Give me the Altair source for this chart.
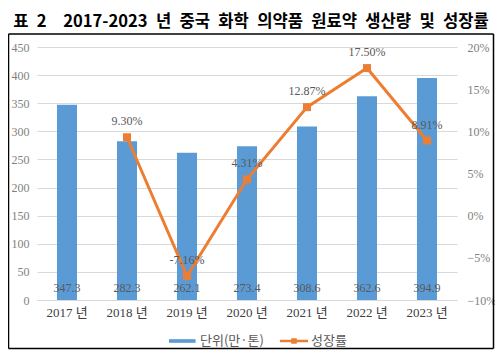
import altair as alt
import pandas as pd

years = ["2017 년", "2018 년", "2019 년", "2020 년", "2021 년", "2022 년", "2023 년"]
production = [347.3, 282.3, 262.1, 273.4, 308.6, 362.6, 394.9]
growth_pct = [None, 9.30, -7.16, 4.31, 12.87, 17.50, 8.91]
series = ["단위(만·톤)", "성장률"]
title_words = ["2017-2023", "년", "중국", "화학", "의약품", "원료약", "생산량", "및", "성장률"]
title_text = "표\u20022\u2002\u2002" + "\u2002".join(title_words)

BLUE = "#5b9bd5"
ORANGE = "#ed7d31"
GREY = "#595959"
SERIF = "Liberation Serif, Noto Sans CJK KR"
CJK = "Noto Sans CJK KR"

df = pd.DataFrame({
    "year": years,
    "production": production,
    "growth": [None if g is None else g / 100 for g in growth_pct],
    "plabel": [f"{v:.1f}" for v in production],
    "glabel": ["" if g is None else f"{g:.2f}%" for g in growth_pct],
})
leg_df = pd.DataFrame({"series": series})

x_axis = alt.Axis(labelAngle=0, ticks=False, domainColor="#d9d9d9",
                  labelFont=SERIF, labelFontSize=13, labelColor="#404040",
                  labelPadding=6)
left_axis = alt.Axis(values=list(range(0, 451, 50)), grid=True, gridColor="#d9d9d9",
                     domain=False, ticks=False, labelFont=SERIF, labelFontSize=12,
                     labelColor="#7f7f7f", labelPadding=8, labelOverlap=False)
left_scale = alt.Scale(domain=[0, 450], nice=False, zero=True)

base = alt.Chart(df)

bars = base.mark_bar(size=20, color=BLUE).encode(
    x=alt.X("year:N", sort=years, title=None, axis=x_axis),
    y=alt.Y("production:Q", title=None, scale=left_scale, axis=left_axis),
)
bar_text = base.mark_text(dy=-12, color=GREY, font=SERIF, fontSize=12).encode(
    x=alt.X("year:N", sort=years, title=None, axis=x_axis),
    y=alt.YDatum(0, title=None, scale=left_scale, axis=left_axis),
    text="plabel:N")

legend_def = alt.Legend(orient="none", legendX=132, legendY=280, title=None,
                        direction="horizontal",
                        labelFont=CJK, labelFontSize=13, labelColor=GREY,
                        symbolSize=784, symbolOpacity=1, symbolStrokeWidth=0,
                        columnPadding=16, labelOffset=3)
rect_path = "M-1,-0.13 L0.9,-0.13 L0.9,0.13 L-1,0.13 Z"
line_path = ("M-1,-0.09 L-0.2,-0.09 L-0.2,-0.2 L0.2,-0.2 L0.2,-0.09 L1,-0.09 "
             "L1,0.09 L0.2,0.09 L0.2,0.2 L-0.2,0.2 L-0.2,0.09 L-1,0.09 Z")
legend_layer = alt.Chart(leg_df).mark_point(filled=True, opacity=0).encode(
    color=alt.Color("series:N", scale=alt.Scale(domain=series, range=[BLUE, ORANGE]),
                    legend=legend_def),
    shape=alt.Shape("series:N", scale=alt.Scale(domain=series, range=[rect_path, line_path]),
                    legend=legend_def),
)

left = alt.layer(bars, bar_text, legend_layer)

gbase = base.transform_filter("datum.growth != null")
y_right = alt.Y("growth:Q", title=None,
                scale=alt.Scale(domain=[-0.10, 0.20], nice=False, zero=False),
                axis=alt.Axis(orient="right", values=[-0.10, -0.05, 0, 0.05, 0.10, 0.15, 0.20],
                              format=".0%", grid=False, domain=False, ticks=False,
                              labelFont=SERIF, labelFontSize=12, labelColor="#7f7f7f",
                              labelPadding=10, labelOverlap=False))
line = gbase.mark_line(color=ORANGE, strokeWidth=3,
                       point=alt.OverlayMarkDef(shape="square", size=64, filled=True,
                                                color=ORANGE, opacity=1)).encode(
    x=alt.X("year:N", sort=years, title=None, axis=x_axis), y=y_right)
line_text = gbase.mark_text(dy=-16, color=GREY, font=SERIF, fontSize=12).encode(
    x=alt.X("year:N", sort=years, title=None, axis=x_axis), y=y_right, text="glabel:N")

right = alt.layer(line, line_text)

one = alt.Data(values=[{"a": 1}])
L, R, T, B = -28.5, 456.5, -13, 301.5
frame_rules = [
    alt.Chart(one).mark_rule(color="#000000", strokeWidth=1.5).encode(
        x=alt.value(L), x2=alt.value(R), y=alt.value(T)),
    alt.Chart(one).mark_rule(color="#000000", strokeWidth=1.5).encode(
        x=alt.value(L), x2=alt.value(R), y=alt.value(B)),
    alt.Chart(one).mark_rule(color="#000000", strokeWidth=1.5).encode(
        x=alt.value(L), y=alt.value(T), y2=alt.value(B)),
    alt.Chart(one).mark_rule(color="#000000", strokeWidth=1.5).encode(
        x=alt.value(R), y=alt.value(T), y2=alt.value(B)),
]

chart = alt.layer(left, right, *frame_rules).resolve_scale(y="independent").properties(
    width=420, height=253,
    padding={"left": 29, "top": 39, "right": 38, "bottom": 51},
    autosize=alt.AutoSizeParams(type="none"),
    title=alt.Title(title_text, font=CJK, fontSize=16.6, fontWeight="bold", color="#000000",
                    anchor="middle", offset=3, dx=4),
).configure_view(stroke=None).configure_axis(labelOverlap=False)

chart.save("out.html", embed_options={"renderer": "svg", "actions": False})
